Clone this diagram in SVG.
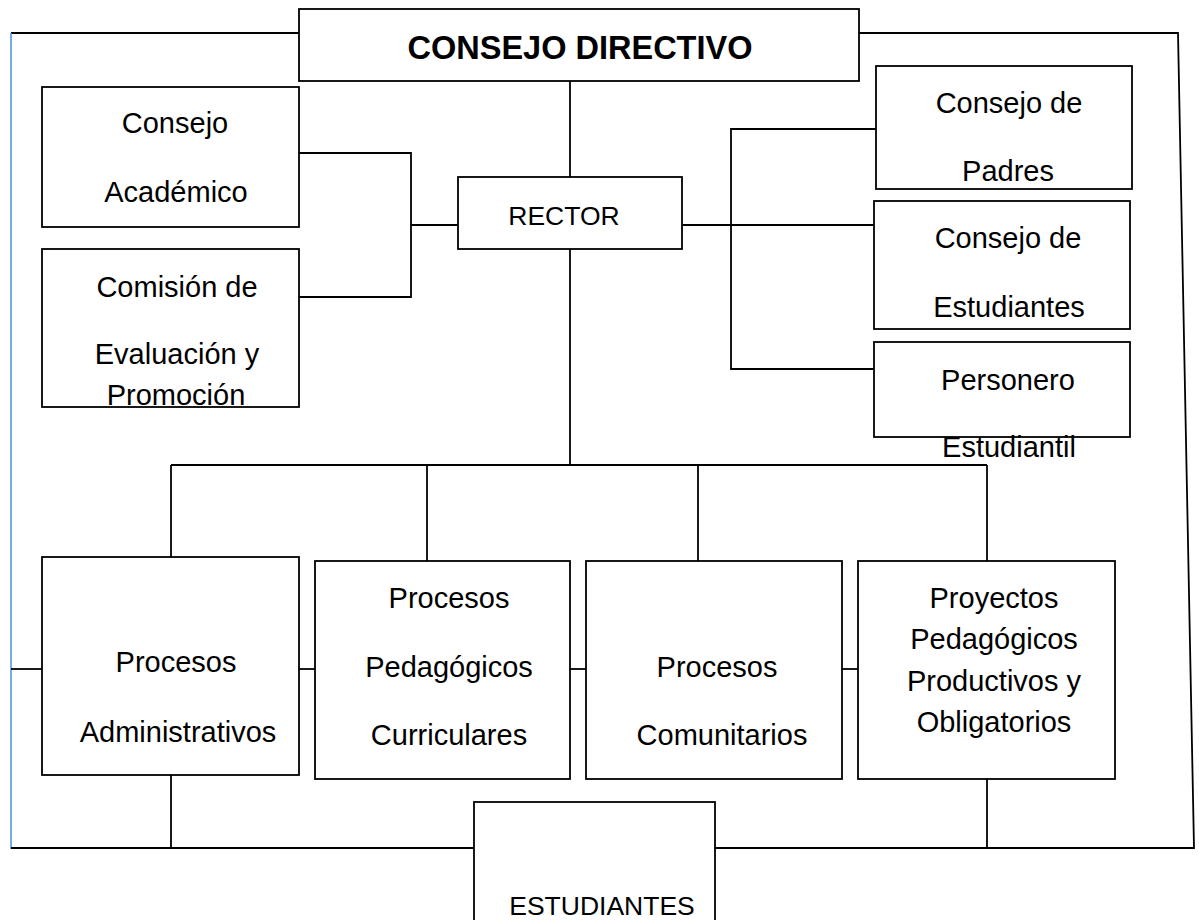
<svg xmlns="http://www.w3.org/2000/svg" width="1199" height="920" viewBox="0 0 1199 920">
<style>
.box{fill:#fff;stroke:#000;stroke-width:1.8}
.ln{fill:none;stroke:#000;stroke-width:1.8}
.blue{fill:none;stroke:#4A90E2;stroke-width:1.5}
text{font-family:"Liberation Sans",Arial,sans-serif;font-size:29px;fill:#000;text-anchor:middle}
.title{font-weight:bold;font-size:32.5px}
.caps{font-size:26.5px}
</style>
<rect width="1199" height="920" fill="#fff"/>
<g id="connectors">
<polyline class="ln" points="299,33 11,33"/>
<polyline class="blue" points="11,33 11,849"/>
<polyline class="ln" points="859,33 1178,33 1194,848 715,848"/>
<polyline class="ln" points="11,848 474,848"/>
<line class="ln" x1="570" y1="81" x2="570" y2="177"/>
<polyline class="ln" points="299,153 411,153 411,297 299,297"/>
<line class="ln" x1="411" y1="225" x2="458" y2="225"/>
<line class="ln" x1="682" y1="225" x2="874" y2="225"/>
<polyline class="ln" points="876,129 731,129 731,369 874,369"/>
<line class="ln" x1="570" y1="249" x2="570" y2="465"/>
<line class="ln" x1="171" y1="465" x2="987" y2="465"/>
<line class="ln" x1="171" y1="465" x2="171" y2="557"/>
<line class="ln" x1="427" y1="465" x2="427" y2="561"/>
<line class="ln" x1="698" y1="465" x2="698" y2="561"/>
<line class="ln" x1="987" y1="465" x2="987" y2="561"/>
<line class="ln" x1="11" y1="669" x2="42" y2="669"/>
<line class="ln" x1="299" y1="669" x2="315" y2="669"/>
<line class="ln" x1="570" y1="669" x2="586" y2="669"/>
<line class="ln" x1="842" y1="669" x2="858" y2="669"/>
<line class="ln" x1="171" y1="775" x2="171" y2="848"/>
<line class="ln" x1="987" y1="779" x2="987" y2="848"/>
</g>
<g id="consejo-directivo">
<rect class="box" x="299" y="9" width="560" height="72"/>
<text class="title" x="580" y="59">CONSEJO DIRECTIVO</text>
</g>
<g id="consejo-academico">
<rect class="box" x="42" y="87" width="257" height="140"/>
<text x="175" y="133">Consejo</text>
<text x="176" y="202">Académico</text>
</g>
<g id="comision-evaluacion">
<rect class="box" x="42" y="249" width="257" height="158"/>
<text x="177" y="297">Comisión de</text>
<text x="177" y="364">Evaluación y</text>
<text x="176" y="405">Promoción</text>
</g>
<g id="rector">
<rect class="box" x="458" y="177" width="224" height="72"/>
<text class="caps" x="564" y="225">RECTOR</text>
</g>
<g id="consejo-padres">
<rect class="box" x="876" y="66" width="256" height="123"/>
<text x="1009" y="113">Consejo de</text>
<text x="1008" y="181">Padres</text>
</g>
<g id="consejo-estudiantes">
<rect class="box" x="874" y="201" width="256" height="128"/>
<text x="1008" y="248">Consejo de</text>
<text x="1009" y="317">Estudiantes</text>
</g>
<g id="personero">
<rect class="box" x="874" y="342" width="256" height="95"/>
<text x="1008" y="390">Personero</text>
<text x="1009" y="457">Estudiantil</text>
</g>
<g id="procesos-administrativos">
<rect class="box" x="42" y="557" width="257" height="218"/>
<text x="176" y="672">Procesos</text>
<text x="178" y="742">Administrativos</text>
</g>
<g id="procesos-pedagogicos">
<rect class="box" x="315" y="561" width="255" height="218"/>
<text x="449" y="608">Procesos</text>
<text x="449" y="677">Pedagógicos</text>
<text x="449" y="745">Curriculares</text>
</g>
<g id="procesos-comunitarios">
<rect class="box" x="586" y="561" width="256" height="218"/>
<text x="717" y="677">Procesos</text>
<text x="722" y="745">Comunitarios</text>
</g>
<g id="proyectos-pedagogicos">
<rect class="box" x="858" y="561" width="257" height="218"/>
<text x="994" y="608">Proyectos</text>
<text x="994" y="649">Pedagógicos</text>
<text x="994" y="691">Productivos y</text>
<text x="994" y="732">Obligatorios</text>
</g>
<g id="estudiantes">
<rect class="box" x="474" y="802" width="241" height="130"/>
<text class="caps" x="602" y="915">ESTUDIANTES</text>
</g>
</svg>
